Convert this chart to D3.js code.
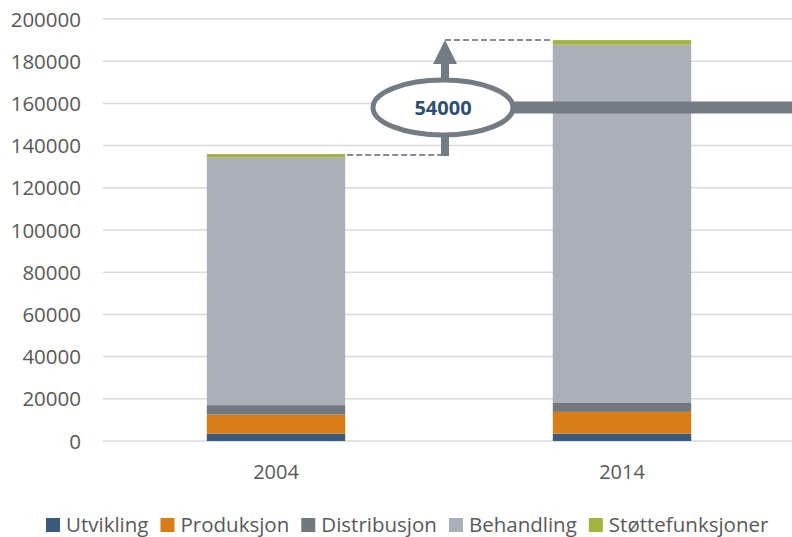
<!DOCTYPE html>
<html lang="no">
<head>
<meta charset="utf-8">
<title>Stacked bars 2004 / 2014</title>
<script src="https://d3js.org/d3.v7.min.js"></script>
<style>
  body { margin: 0; background: #fff; }
  text { font-family: "Open Sans", "Liberation Sans", sans-serif; fill: #595959; }
</style>
</head>
<body>
<div id="chart"></div>
<script>
// data
var years = ["2004", "2014"]
var series = ["Utvikling", "Produksjon", "Distribusjon", "Behandling", "Støttefunksjoner"]
var utvikling = [3500, 3500]
var produksjon = [9000, 10300]
var distribusjon = [4500, 4500]
var behandling = [117500, 169500]
var stotte = [1500, 2200]
var yTicks = [0, 20000, 40000, 60000, 80000, 100000, 120000, 140000, 160000, 180000, 200000]
var diffLabel = "54000"

var colors = ["#3a5a7c", "#d97d18", "#717880", "#aab0b7", "#a5b43f"]

var w = 792, h = 537
var plotLeft = 103, plotRight = 795, plotTop = 19, plotBottom = 441

var svg = d3.select("#chart").append("svg")
  .attr("width", w).attr("height", h)

var rows = years.map(function(y, i) {
  return { year: y, Utvikling: utvikling[i], Produksjon: produksjon[i],
    Distribusjon: distribusjon[i], Behandling: behandling[i], "Støttefunksjoner": stotte[i] }
})
var stacked = d3.stack().keys(series)(rows)

var x = d3.scaleBand().domain(years).range([plotLeft, plotRight]).paddingInner(0.6).paddingOuter(0.3)
var yScale = d3.scaleLinear().domain([0, 200000]).range([plotBottom, plotTop])

// gridlines
svg.append("g").selectAll("line").data(yTicks).enter().append("line")
  .attr("x1", plotLeft).attr("x2", w)
  .attr("y1", function(d) { return yScale(d) }).attr("y2", function(d) { return yScale(d) })
  .attr("stroke", "#d9d9d9").attr("stroke-width", 1.5)

var yAxis = d3.axisLeft(yScale).tickValues(yTicks).tickSize(0).tickPadding(0).tickFormat(d3.format("d"))
svg.append("g").attr("transform", "translate(81,0)").call(yAxis)
  .call(function(g) { g.select(".domain").remove() })
  .selectAll("text").style("font-size", "20.5px").attr("dy", "0.35em")

// bars
svg.append("g").selectAll("g").data(stacked).enter().append("g")
  .attr("fill", function(d, i) { return colors[i] })
  .selectAll("rect").data(function(d) { return d }).enter().append("rect")
  .attr("x", function(d) { return x(d.data.year) })
  .attr("width", x.bandwidth())
  .attr("y", function(d) { return yScale(d[1]) })
  .attr("height", function(d) { return yScale(d[0]) - yScale(d[1]) })

var xAxis = d3.axisBottom(x).tickSize(0).tickPadding(0)
svg.append("g").attr("transform", "translate(0,472)").call(xAxis)
  .call(function(g) { g.select(".domain").remove() })
  .selectAll("text").style("font-size", "20px").attr("dy", "0.35em")

// annotation
var total = rows.map(function(r) { return d3.sum(series, function(k) { return r[k] }) })
var ax = 445, ann = "#737b84"
var y0 = yScale(total[0]) + 1, y1 = yScale(total[1])
svg.append("line").attr("x1", x("2004") + x.bandwidth() + 2).attr("x2", ax)
  .attr("y1", y0).attr("y2", y0)
  .attr("stroke", "#858b93").attr("stroke-width", 2).attr("stroke-dasharray", "6,3")
svg.append("line").attr("x1", ax).attr("x2", x("2014"))
  .attr("y1", y1).attr("y2", y1)
  .attr("stroke", "#858b93").attr("stroke-width", 2).attr("stroke-dasharray", "6,3")
svg.append("line").attr("x1", ax).attr("x2", ax).attr("y1", y0 + 1).attr("y2", y1 + 20)
  .attr("stroke", ann).attr("stroke-width", 8)
svg.append("path")
  .attr("d", "M" + ax + "," + y1 + "L" + (ax + 12) + "," + (y1 + 24) + "L" + (ax - 12) + "," + (y1 + 24) + "Z")
  .attr("fill", ann)
var ey = 107.5
svg.append("rect").attr("x", 510).attr("y", ey - 6).attr("width", w - 510).attr("height", 12)
  .attr("fill", ann)
svg.append("ellipse").attr("cx", 443).attr("cy", ey).attr("rx", 70).attr("ry", 27.5)
  .attr("fill", "#fff").attr("stroke", ann).attr("stroke-width", 5)
svg.append("text").attr("x", 443).attr("y", ey).attr("dy", "0.35em")
  .attr("text-anchor", "middle").style("font-size", "20px").style("font-weight", "bold")
  .style("fill", "#2f4f72").text(diffLabel)

// legend
var legend = svg.append("g").attr("transform", "translate(0,525)")
var lx = 46
series.forEach(function(s, i) {
  var g = legend.append("g").attr("transform", "translate(" + lx + ",0)")
  g.append("rect").attr("x", 0).attr("y", -7).attr("width", 14).attr("height", 14).attr("fill", colors[i])
  var t = g.append("text").attr("x", 20).attr("dy", "0.35em").style("font-size", "20.5px").text(s)
  lx += 20 + t.node().getComputedTextLength() + 12
})
</script>
</body>
</html>
